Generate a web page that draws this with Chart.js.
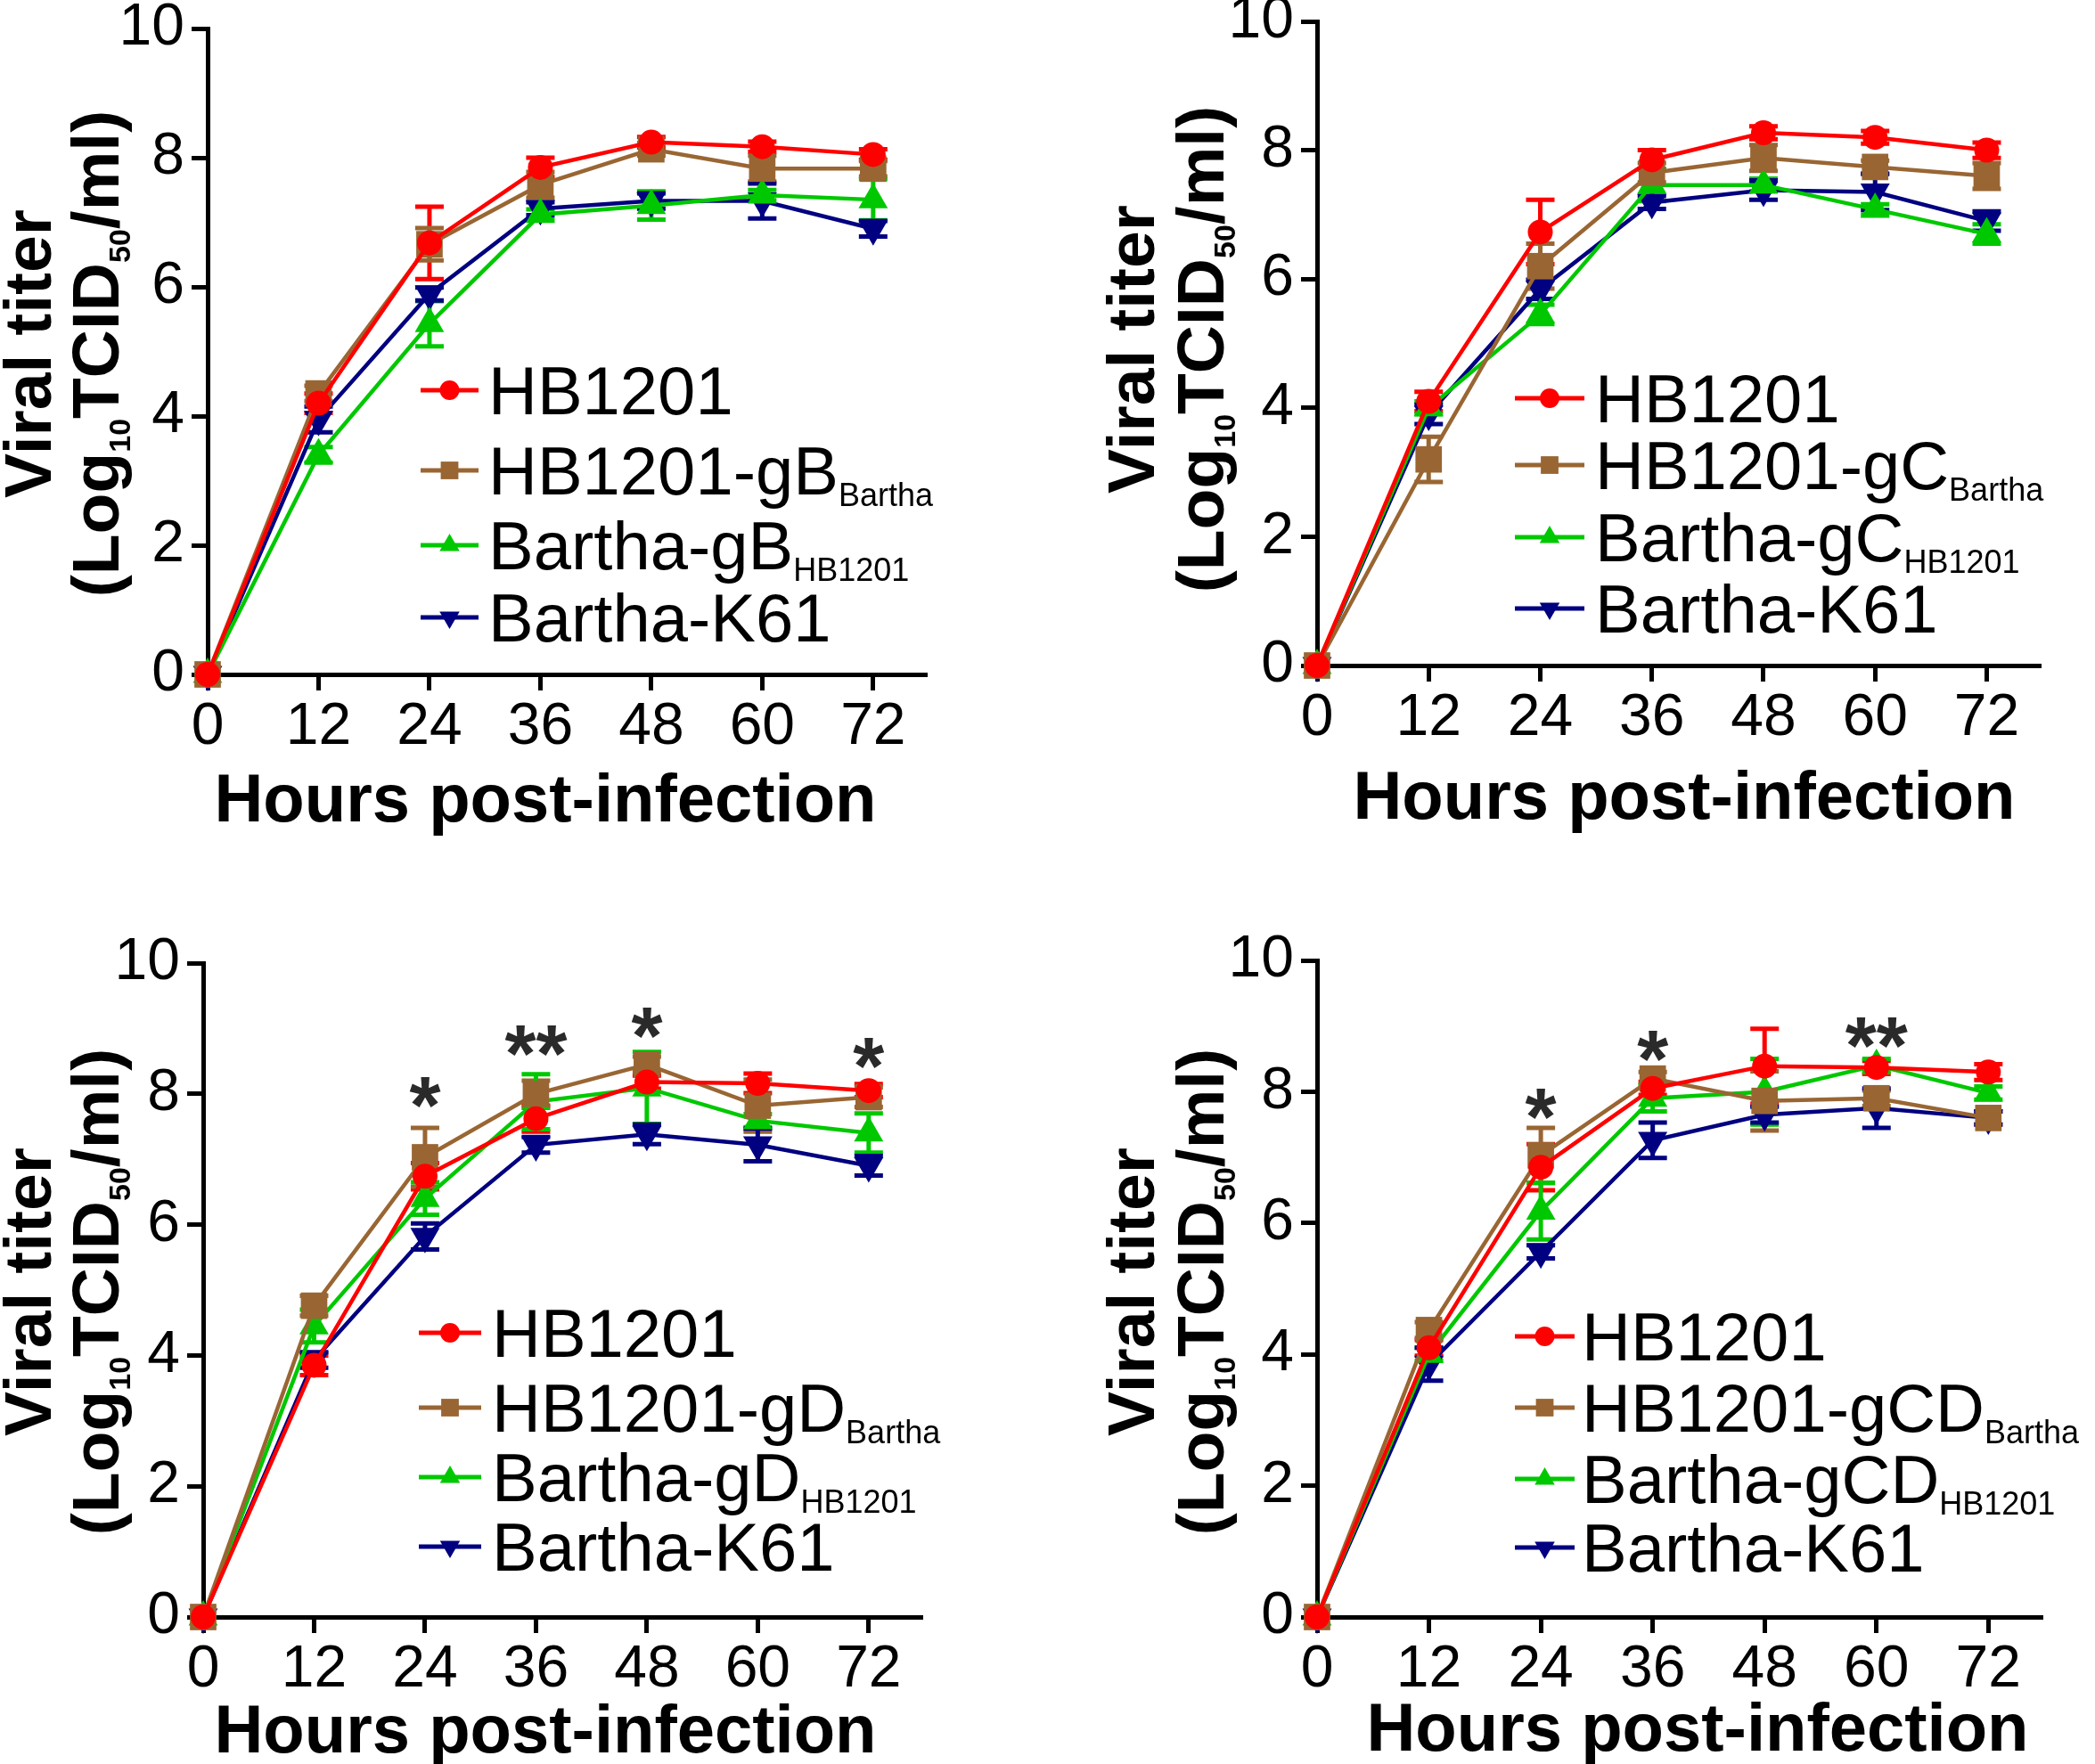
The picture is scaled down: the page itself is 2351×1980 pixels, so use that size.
<!doctype html>
<html>
<head>
<meta charset="utf-8">
<title>Viral growth curves</title>
<script src="https://cdn.jsdelivr.net/npm/chart.js@4.4.1/dist/chart.umd.min.js"></script>
<style>
  html, body { margin: 0; padding: 0; background: #fff; }
  body { width: 2351px; height: 1980px; position: relative; overflow: hidden; }
  canvas { position: absolute; left: 0; top: -100px; }
</style>
</head>
<body>
<canvas id="c1" width="2351" height="2180"></canvas>
<canvas id="c2" width="2351" height="2180"></canvas>
<canvas id="c3" width="2351" height="2180"></canvas>
<canvas id="c4" width="2351" height="2180"></canvas>
<script>
// ---- data ----
var hours = [0, 12, 24, 36, 48, 60, 72];
var xTickLabels = ['0', '12', '24', '36', '48', '60', '72'];
var yTickValues = [0, 2, 4, 6, 8, 10];

// panel A: gB
var A_HB1201 = [0, 4.2, 6.68, 7.85, 8.24, 8.17, 8.05];
var A_HB1201_sd = [0, 0.15, 0.56, 0.15, 0.08, 0.08, 0.08];
var A_swapHB = [0, 4.35, 6.66, 7.58, 8.13, 7.83, 7.83];
var A_swapHB_sd = [0, 0.12, 0.25, 0.2, 0.1, 0.2, 0.12];
var A_swapBa = [0, 3.4, 5.43, 7.12, 7.26, 7.42, 7.35];
var A_swapBa_sd = [0, 0.12, 0.35, 0.08, 0.22, 0.08, 0.32];
var A_K61 = [0, 3.95, 5.89, 7.21, 7.33, 7.33, 6.9];
var A_K61_sd = [0, 0.2, 0.1, 0.1, 0.12, 0.27, 0.12];
var A_legend = [['HB1201', ''], ['HB1201-gB', 'Bartha'], ['Bartha-gB', 'HB1201'], ['Bartha-K61', '']];

// panel B: gC
var B_HB1201 = [0, 4.1, 6.73, 7.85, 8.27, 8.2, 8.0];
var B_HB1201_sd = [0, 0.15, 0.5, 0.15, 0.1, 0.1, 0.12];
var B_swapHB = [0, 3.2, 6.2, 7.65, 7.88, 7.74, 7.6];
var B_swapHB_sd = [0, 0.35, 0.35, 0.15, 0.2, 0.1, 0.2];
var B_swapBa = [0, 4.0, 5.45, 7.46, 7.46, 7.08, 6.7];
var B_swapBa_sd = [0, 0.1, 0.15, 0.25, 0.1, 0.08, 0.15];
var B_K61 = [0, 3.9, 5.84, 7.19, 7.38, 7.35, 6.9];
var B_K61_sd = [0, 0.15, 0.15, 0.1, 0.15, 0.28, 0.15];
var B_legend = [['HB1201', ''], ['HB1201-gC', 'Bartha'], ['Bartha-gC', 'HB1201'], ['Bartha-K61', '']];

// panel C: gD
var C_HB1201 = [0, 3.85, 6.74, 7.62, 8.18, 8.16, 8.05];
var C_HB1201_sd = [0, 0.15, 0.2, 0.2, 0.1, 0.15, 0.1];
var C_swapHB = [0, 4.76, 7.03, 8.0, 8.45, 7.82, 7.95];
var C_swapHB_sd = [0, 0.15, 0.45, 0.2, 0.12, 0.4, 0.15];
var C_swapBa = [0, 4.45, 6.4, 7.88, 8.09, 7.59, 7.4];
var C_swapBa_sd = [0, 0.25, 0.25, 0.42, 0.55, 0.1, 0.3];
var C_K61 = [0, 3.93, 5.82, 7.22, 7.38, 7.22, 6.9];
var C_K61_sd = [0, 0.12, 0.2, 0.12, 0.15, 0.25, 0.15];
var C_legend = [['HB1201', ''], ['HB1201-gD', 'Bartha'], ['Bartha-gD', 'HB1201'], ['Bartha-K61', '']];
var C_sigX = [24, 36, 48, 72];
var C_sigY = [7.93, 8.71, 8.99, 8.53];
var C_sigText = ['*', '**', '*', '*'];

// panel D: gCD
var D_HB1201 = [0, 4.1, 6.85, 8.05, 8.39, 8.37, 8.3];
var D_HB1201_sd = [0, 0.12, 0.35, 0.1, 0.57, 0.1, 0.12];
var D_swapHB = [0, 4.37, 7.03, 8.2, 7.86, 7.9, 7.6];
var D_swapHB_sd = [0, 0.12, 0.42, 0.1, 0.45, 0.12, 0.1];
var D_swapBa = [0, 4.0, 6.18, 7.9, 8.0, 8.4, 7.98];
var D_swapBa_sd = [0, 0.1, 0.43, 0.2, 0.5, 0.1, 0.1];
var D_K61 = [0, 3.85, 5.56, 7.26, 7.65, 7.75, 7.6];
var D_K61_sd = [0, 0.25, 0.1, 0.27, 0.12, 0.3, 0.1];
var D_legend = [['HB1201', ''], ['HB1201-gCD', 'Bartha'], ['Bartha-gCD', 'HB1201'], ['Bartha-K61', '']];
var D_sigX = [24, 36, 60];
var D_sigY = [7.72, 8.6, 8.8];
var D_sigText = ['*', '*', '**'];

// ---- styles ----
var colors = ['#ff0000', '#996633', '#00c800', '#000080'];
var pointStyles = ['circle', 'rect', 'triangle', 'triangle'];
var pointRot = [0, 0, 0, 180];
var pointSizes = [14, 21, 19, 19];
var legendSizes = [11, 14, 13, 13];
var FONT = '"Liberation Sans", Arial, sans-serif';
var PAGE_W = 2351, PAGE_H = 1980, OFF = 100;   // canvases stick out 100px above/below the page
var Y_AXIS_W = 150, X_AXIS_H = 110;

function drawRich(ctx, parts, x, base, big, small, bold, subDrop) {
    // parts alternate: normal text, subscript, normal text, ...
    var w = bold ? 'bold ' : '';
    parts.forEach(function(t, k) {
        if (!t) return;
        ctx.font = w + (k % 2 ? small : big) + 'px ' + FONT;
        ctx.fillText(t, x, base + (k % 2 ? subDrop : 0));
        x += ctx.measureText(t).width;
    });
    return x;
}
function richWidth(ctx, parts, big, small, bold) {
    var w = bold ? 'bold ' : '', total = 0;
    parts.forEach(function(t, k) {
        if (!t) return;
        ctx.font = w + (k % 2 ? small : big) + 'px ' + FONT;
        total += ctx.measureText(t).width;
    });
    return total;
}

var extras = {
    id: 'extras',
    beforeDatasetsDraw: function(chart) {
        // error bars, under the markers
        var ctx = chart.ctx, ys = chart.scales.y;
        ctx.save();
        chart.data.datasets.forEach(function(ds, i) {
            var meta = chart.getDatasetMeta(i);
            ctx.strokeStyle = ds.borderColor;
            ctx.lineWidth = 5;
            ds.data.forEach(function(p, j) {
                var e = ds.errors[j];
                if (!e) return;
                var x = meta.data[j].x;
                var t = ys.getPixelForValue(p.y + e), b = ys.getPixelForValue(p.y - e);
                ctx.beginPath();
                ctx.moveTo(x, t); ctx.lineTo(x, b);
                ctx.moveTo(x - 16, t); ctx.lineTo(x + 16, t);
                ctx.moveTo(x - 16, b); ctx.lineTo(x + 16, b);
                ctx.stroke();
            });
        });
        ctx.restore();
    },
    afterDraw: function(chart) {
        var ctx = chart.ctx, o = chart.options.plugins.extras;
        var xs = chart.scales.x, ys = chart.scales.y;
        ctx.save();
        // significance marks
        if (o.sigX) {
            ctx.fillStyle = '#2a2a2a';
            ctx.textAlign = 'center';
            ctx.textBaseline = 'middle';
            ctx.font = 'bold 90px ' + FONT;
            o.sigX.forEach(function(v, k) {
                ctx.fillText(o.sigText[k], xs.getPixelForValue(v), ys.getPixelForValue(o.sigY[k]) + 14);
            });
        }
        // the rest is placed in page coordinates
        ctx.translate(0, OFF);
        ctx.fillStyle = '#000';
        ctx.textAlign = 'left';
        ctx.textBaseline = 'alphabetic';
        var L = o.legendPos;
        chart.data.datasets.forEach(function(ds, i) {
            var y = L.rows[i];
            ctx.strokeStyle = ds.borderColor;
            ctx.lineWidth = 5;
            ctx.beginPath(); ctx.moveTo(L.x1, y); ctx.lineTo(L.x2, y); ctx.stroke();
            ctx.fillStyle = ds.borderColor;
            Chart.helpers.drawPoint(ctx, {pointStyle: ds.pointStyle, radius: legendSizes[i], rotation: ds.pointRotation, borderWidth: 0}, (L.x1 + L.x2) / 2, y);
            ctx.fillStyle = '#000';
            drawRich(ctx, o.legend[i], L.tx, y + 27, 76, 36, false, 13);
        });
        // x title
        ctx.font = 'bold 76px ' + FONT;
        ctx.textAlign = 'center';
        ctx.fillText('Hours post-infection', o.xTitle[0], o.xTitle[1] + 27);
        ctx.textAlign = 'left';
        // y title, two rotated lines
        var T = o.yTitle;
        var lines = [['Viral titer'], ['(Log', '10', 'TCID', '50', '/ml)']];
        [T[0], T[1]].forEach(function(cx, k) {
            ctx.save();
            ctx.translate(cx, T[2]);
            ctx.rotate(-Math.PI / 2);
            var w = richWidth(ctx, lines[k], 75, 34, true);
            drawRich(ctx, lines[k], -w / 2, 27, 75, 34, true, 13);
            ctx.restore();
        });
        ctx.restore();
    }
};

function axis(extra) {
    var s = {
        type: 'linear',
        grid: { display: true, drawOnChartArea: false, drawTicks: true, tickLength: 18, tickWidth: 5, tickColor: '#000' },
        border: { display: true, color: '#000', width: 5 },
        ticks: { color: '#000', font: { family: FONT, size: 66 }, padding: 6, autoSkip: false, maxRotation: 0 }
    };
    for (var k in extra) s[k] = extra[k];
    return s;
}

function panel(id, plot, series, sds, legend, legendPos, xTitle, yTitle, sigX, sigY, sigText) {
    var datasets = series.map(function(vals, i) {
        return {
            label: legend[i].join(''),
            data: hours.map(function(h, j) { return { x: h, y: vals[j] }; }),
            errors: sds[i],
            borderColor: colors[i],
            backgroundColor: colors[i],
            borderWidth: 4.5,
            pointStyle: pointStyles[i],
            pointRotation: pointRot[i],
            pointRadius: pointSizes[i],
            pointBorderWidth: 0,
            pointBackgroundColor: colors[i],
            tension: 0,
            clip: false
        };
    });
    var xAxis = axis({
        min: 0, max: 77.8,
        afterBuildTicks: function(s) { s.ticks = hours.map(function(v) { return { value: v }; }); },
        afterTickToLabelConversion: function(s) { s.ticks.forEach(function(t, i) { t.label = xTickLabels[i]; }); },
        afterFit: function(s) { s.height = X_AXIS_H; }
    });
    xAxis.ticks.padding = 2;
    var yAxis = axis({
        min: 0, max: 10,
        afterBuildTicks: function(s) { s.ticks = yTickValues.map(function(v) { return { value: v }; }); },
        afterFit: function(s) { s.width = Y_AXIS_W; }
    });
    yAxis.ticks.padding = 8;
    new Chart(document.getElementById(id), {
        type: 'line',
        data: { datasets: datasets },
        options: {
            responsive: false,
            animation: false,
            devicePixelRatio: 1,
            events: [],
            layout: { padding: {
                left: plot[0] - Y_AXIS_W, top: plot[1] + OFF,
                right: PAGE_W - plot[2], bottom: PAGE_H + OFF - plot[3] - X_AXIS_H } },
            scales: { x: xAxis, y: yAxis },
            plugins: {
                legend: { display: false },
                tooltip: { enabled: false },
                extras: { legend: legend, legendPos: legendPos, xTitle: xTitle, yTitle: yTitle,
                          sigX: sigX, sigY: sigY, sigText: sigText }
            }
        },
        plugins: [extras]
    });
}

panel('c1', [233, 32, 1040, 757],
    [A_HB1201, A_swapHB, A_swapBa, A_K61], [A_HB1201_sd, A_swapHB_sd, A_swapBa_sd, A_K61_sd], A_legend,
    { x1: 472, x2: 537, tx: 548, rows: [438, 528, 612, 693] }, [612, 895], [30, 106, 397]);
panel('c2', [1478, 24, 2290, 747],
    [B_HB1201, B_swapHB, B_swapBa, B_K61], [B_HB1201_sd, B_swapHB_sd, B_swapBa_sd, B_K61_sd], B_legend,
    { x1: 1700, x2: 1778, tx: 1790, rows: [447, 522, 603, 683] }, [1890, 892], [1268, 1346, 392]);
panel('c3', [228, 1081, 1035, 1815],
    [C_HB1201, C_swapHB, C_swapBa, C_K61], [C_HB1201_sd, C_swapHB_sd, C_swapBa_sd, C_K61_sd], C_legend,
    { x1: 470, x2: 540, tx: 552, rows: [1496, 1580, 1658, 1736] }, [612, 1940], [30, 106, 1450],
    C_sigX, C_sigY, C_sigText);
panel('c4', [1478, 1078, 2292, 1815],
    [D_HB1201, D_swapHB, D_swapBa, D_K61], [D_HB1201_sd, D_swapHB_sd, D_swapBa_sd, D_K61_sd], D_legend,
    { x1: 1700, x2: 1767, tx: 1775, rows: [1500, 1580, 1660, 1737] }, [1905, 1938], [1268, 1346, 1450],
    D_sigX, D_sigY, D_sigText);
</script>
</body>
</html>
